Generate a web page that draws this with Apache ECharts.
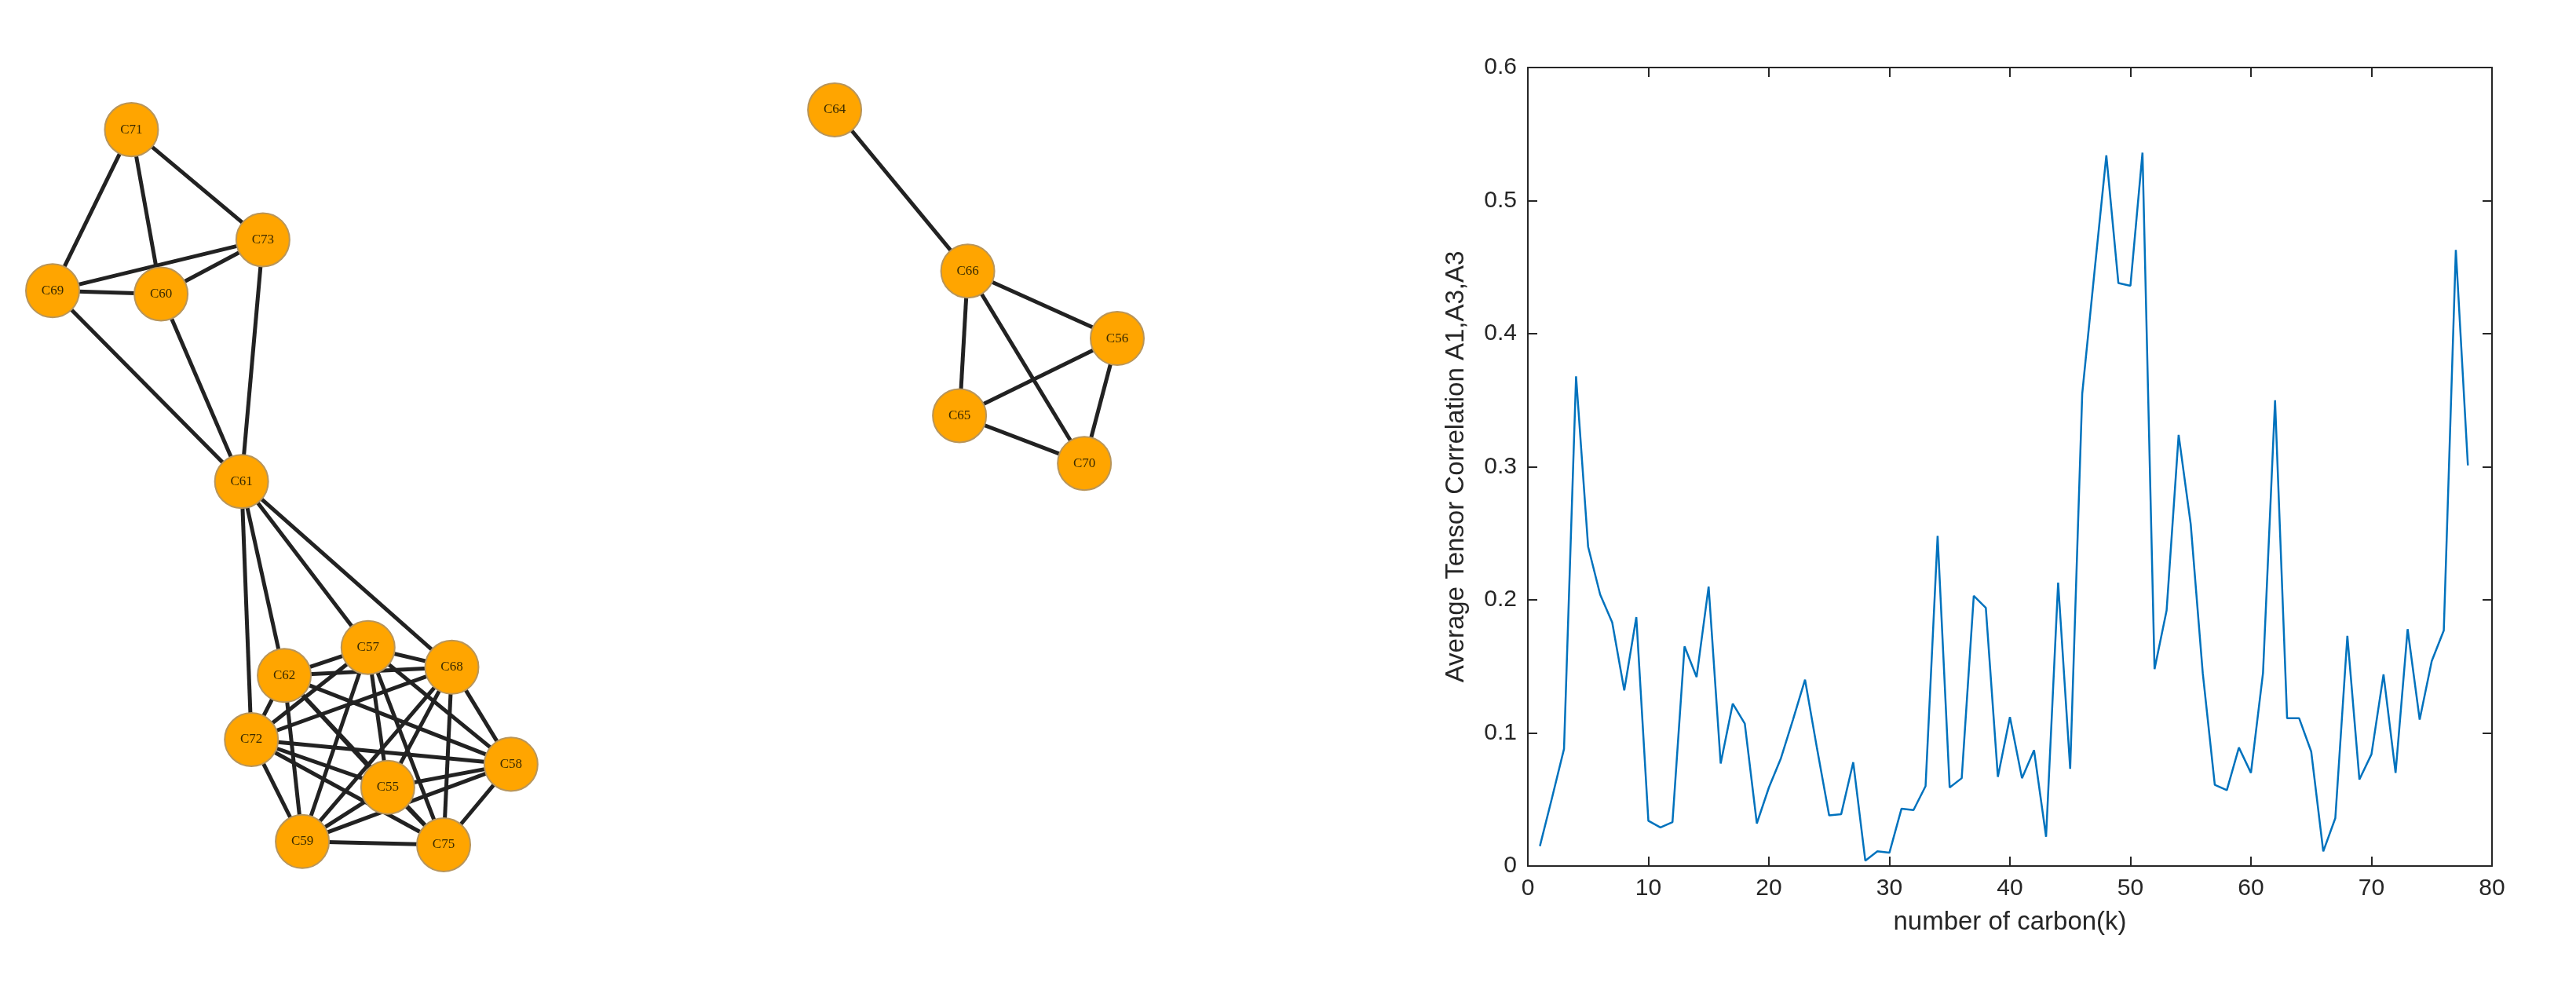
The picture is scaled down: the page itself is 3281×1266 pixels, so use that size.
<!DOCTYPE html><html><head><meta charset="utf-8"><script src="https://cdn.jsdelivr.net/npm/echarts@6/dist/echarts.min.js"></script></head><body style="margin:0;background:#fff"><div id="c" style="width:3281px;height:1266px"></div><script>
const kValues=[];for(let i=1;i<=78;i++)kValues.push(i);
const correlation=[0.015,0.051,0.088,0.368,0.24,0.204,0.183,0.132,0.187,0.034,0.029,0.033,0.165,0.142,0.21,0.077,0.122,0.107,0.032,0.059,0.081,0.11,0.14,0.088,0.038,0.039,0.078,0.004,0.011,0.010,0.043,0.042,0.06,0.248,0.059,0.066,0.203,0.194,0.067,0.112,0.066,0.087,0.022,0.213,0.073,0.355,0.445,0.534,0.438,0.436,0.536,0.148,0.192,0.324,0.257,0.145,0.061,0.057,0.089,0.070,0.145,0.350,0.111,0.111,0.086,0.011,0.036,0.173,0.065,0.084,0.144,0.070,0.178,0.110,0.154,0.177,0.463,0.301];
const yTicks=[0,0.1,0.2,0.3,0.4,0.5,0.6];
const xTicks=[0,10,20,30,40,50,60,70,80];
const nodeNames=['C71','C73','C69','C60','C61','C62','C57','C68','C72','C58','C55','C59','C75','C64','C66','C56','C65','C70'];
const nodeX=[80,160,32,98,147,173,224,275,153,311,236,184,270,508,589,680,584,660];
const nodeY=[79,146,177,179,293,411,394,406,450,465,479,512,514,67,165,206,253,282];
const edgeList=[['C71','C73'],['C71','C69'],['C71','C60'],['C69','C60'],['C69','C73'],['C60','C73'],['C69','C61'],['C60','C61'],['C73','C61'],['C61','C62'],['C61','C72'],['C61','C57'],['C61','C68'],['C64','C66'],['C66','C56'],['C66','C65'],['C66','C70'],['C56','C65'],['C56','C70'],['C65','C70']];
const cluster=['C62','C57','C68','C72','C58','C55','C59','C75'];
for(let i=0;i<cluster.length;i++)for(let j=i+1;j<cluster.length;j++)edgeList.push([cluster[i],cluster[j]]);
const ch=echarts.init(document.getElementById('c'));
const axFont={fontFamily:'Liberation Sans',fontSize:30,color:'#262626'};
const line={onZero:false,lineStyle:{color:'#262626',width:2}};
const tick={show:true,inside:true,length:12,lineStyle:{color:'#262626',width:2}};
ch.setOption({animation:false,
grid:{left:1946,right:107,top:86,bottom:163,containLabel:false},
xAxis:[{type:'value',min:0,max:80,interval:10,axisLine:line,axisTick:tick,axisLabel:Object.assign({margin:14},axFont),splitLine:{show:false},name:'number of carbon(k)',nameLocation:'middle',nameGap:55,nameTextStyle:{fontFamily:'Liberation Sans',fontSize:33,color:'#262626'}},
{type:'value',position:'top',min:0,max:80,interval:10,axisLine:line,axisTick:tick,axisLabel:{show:false},splitLine:{show:false}}],
yAxis:[{type:'value',min:0,max:0.6,interval:0.1,axisLine:Object.assign({show:true},line),axisTick:tick,axisLabel:Object.assign({margin:14,formatter:v=>v===0?'0':String(+v.toFixed(1))},axFont),splitLine:{show:false},name:'Average Tensor Correlation A1,A3,A3',nameLocation:'middle',nameGap:75,nameTextStyle:{fontFamily:'Liberation Sans',fontSize:33,color:'#262626'}},
{type:'value',position:'right',min:0,max:0.6,interval:0.1,axisLine:Object.assign({show:true},line),axisTick:tick,axisLabel:{show:false},splitLine:{show:false}}],
series:[{type:'line',data:kValues.map((k,i)=>[k,correlation[i]]),showSymbol:false,lineStyle:{color:'#0072BD',width:2.5},xAxisIndex:0,yAxisIndex:0},
{type:'graph',layout:'none',left:67,top:140,width:1356,height:936,symbolSize:68,
itemStyle:{color:'#FFA500',borderColor:'#b8955a',borderWidth:2},
label:{show:true,position:'inside',fontFamily:'Liberation Serif',fontSize:17,color:'#3a2a00'},
lineStyle:{color:'#222',width:5,opacity:1},
data:nodeNames.map((n,i)=>({name:n,x:nodeX[i],y:nodeY[i]})),
links:edgeList.map(e=>({source:e[0],target:e[1]})),z:3}]
});
</script></body></html>
